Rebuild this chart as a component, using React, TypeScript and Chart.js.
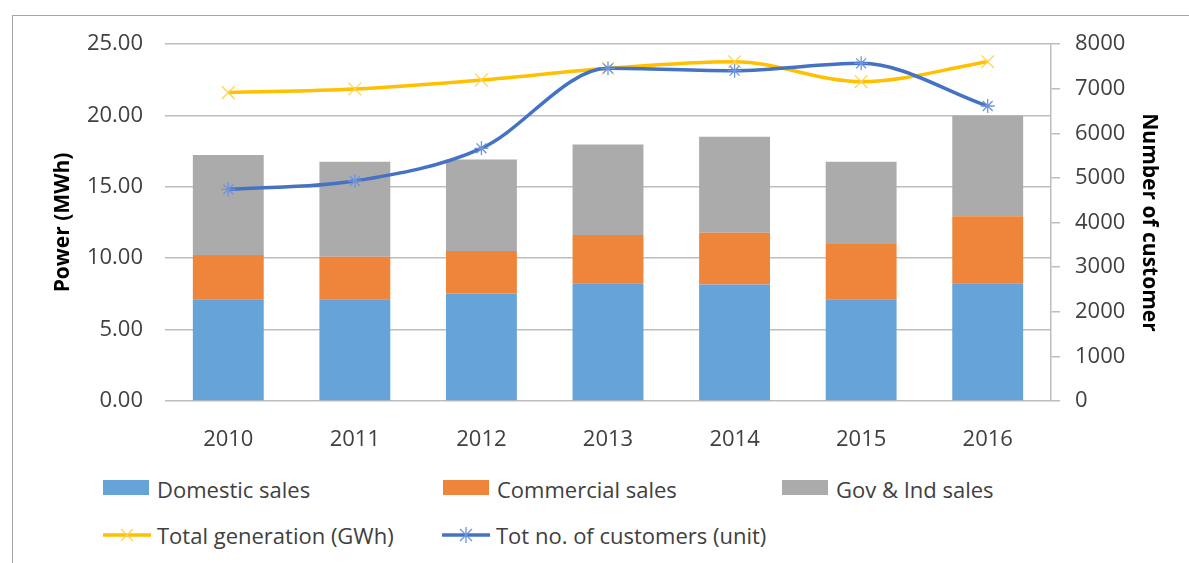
import React, { useEffect, useRef } from "react";
import { Chart, registerables } from "chart.js";

Chart.register(...registerables);

const categories = ["2010", "2011", "2012", "2013", "2014", "2015", "2016"];
const domesticSales = [7.12, 7.12, 7.52, 8.24, 8.15, 7.12, 8.24];
const commercialSales = [3.1, 2.98, 2.98, 3.38, 3.64, 3.92, 4.69];
const govIndSales = [7.01, 6.66, 6.42, 6.35, 6.72, 5.72, 7.05];
const totalGeneration = [21.6, 21.85, 22.48, 23.3, 23.76, 22.36, 23.76];
const totalCustomers = [4744, 4930, 5663, 7455, 7402, 7567, 6611];

const leftAxis = { min: 0, max: 25, step: 5, title: "Power (MWh)" };
const rightAxis = { min: 0, max: 8000, step: 1000, title: "Number of customer" };

const seriesNames = [
  "Domestic sales",
  "Commercial sales",
  "Gov & Ind sales",
  "Total generation (GWh)",
  "Tot no. of customers (unit)",
];

const COLORS = {
  domestic: "#65A3D8",
  commercial: "#EE853A",
  gov: "#ABABAB",
  gen: "#FFC000",
  genMarker: "#FFD34D",
  cust: "#4472C4",
  custMarker: "#6F93DA",
  grid: "#BDBDBD",
  text: "#404040",
};

const FONT = "'Open Sans', 'Noto Sans', sans-serif";

function LineSymbol({ color, marker, kind }: { color: string; marker: string; kind: "x" | "star" }) {
  return (
    <svg width={48} height={20} style={{ position: "absolute", left: 0, top: 0 }}>
      <line x1={0} y1={10} x2={48} y2={10} stroke={color} strokeWidth={3.5} />
      <line x1={18} y1={4} x2={30} y2={16} stroke={marker} strokeWidth={1.3} />
      <line x1={30} y1={4} x2={18} y2={16} stroke={marker} strokeWidth={1.3} />
      {kind === "star" && <line x1={24} y1={2} x2={24} y2={18} stroke={marker} strokeWidth={1.3} />}
    </svg>
  );
}

export default function App() {
  const canvasRef = useRef<HTMLCanvasElement | null>(null);

  useEffect(() => {
    document.body.style.margin = "0";
    const canvas = canvasRef.current;
    if (!canvas) return;
    const chart = new Chart(canvas, {
      type: "bar",
      data: {
        labels: categories,
        datasets: [
          {
            type: "line",
            label: seriesNames[4],
            data: totalCustomers,
            yAxisID: "y1",
            borderColor: COLORS.cust,
            borderWidth: 3.5,
            cubicInterpolationMode: "monotone",
            pointStyle: "star",
            pointRadius: 7,
            pointBorderColor: COLORS.custMarker,
            pointBackgroundColor: COLORS.custMarker,
            pointBorderWidth: 1.3,
            order: 0,
            stack: "cust",
          } as any,
          {
            type: "line",
            label: seriesNames[3],
            data: totalGeneration,
            yAxisID: "y",
            borderColor: COLORS.gen,
            borderWidth: 3.5,
            cubicInterpolationMode: "monotone",
            pointStyle: "crossRot",
            pointRadius: 9,
            pointBorderColor: COLORS.genMarker,
            pointBackgroundColor: COLORS.genMarker,
            pointBorderWidth: 1.3,
            order: 1,
            stack: "gen",
          } as any,
          {
            label: seriesNames[0],
            data: domesticSales,
            backgroundColor: COLORS.domestic,
            yAxisID: "y",
            stack: "sales",
            order: 2,
          },
          {
            label: seriesNames[1],
            data: commercialSales,
            backgroundColor: COLORS.commercial,
            yAxisID: "y",
            stack: "sales",
            order: 2,
          },
          {
            label: seriesNames[2],
            data: govIndSales,
            backgroundColor: COLORS.gov,
            yAxisID: "y",
            stack: "sales",
            order: 2,
          },
        ],
      },
      options: {
        animation: false,
        responsive: false,
        maintainAspectRatio: false,
        datasets: { bar: { categoryPercentage: 1, barPercentage: 0.56 } },
        layout: { padding: { top: 44, left: 46, right: 23, bottom: 0 } },
        plugins: { legend: { display: false }, tooltip: { enabled: false } },
        scales: {
          x: {
            stacked: true,
            grid: { display: false },
            border: { display: false },
            ticks: { color: COLORS.text, font: { family: FONT, size: 22 }, padding: 18 },
            afterFit: (s: any) => {
              s.height = 59;
            },
          },
          y: {
            position: "left",
            stacked: true,
            min: leftAxis.min,
            max: leftAxis.max,
            grid: { color: COLORS.grid, lineWidth: 1.5, drawTicks: false },
            border: { display: false },
            ticks: {
              stepSize: leftAxis.step,
              padding: 22,
              color: COLORS.text,
              font: { family: FONT, size: 22 },
              callback: (v: any) => Number(v).toFixed(2),
            },
            title: {
              display: true,
              text: leftAxis.title,
              color: "#000",
              font: { family: FONT, size: 21, weight: "bold" },
            },
            afterFit: (s: any) => {
              s.width = 119;
            },
          },
          y1: {
            position: "right",
            min: rightAxis.min,
            max: rightAxis.max,
            grid: { drawOnChartArea: false, drawTicks: true, tickLength: 9, color: COLORS.grid, lineWidth: 1.5 },
            border: { display: true, color: COLORS.grid, width: 1.5 },
            ticks: {
              stepSize: rightAxis.step,
              padding: 15,
              color: COLORS.text,
              font: { family: FONT, size: 22 },
              callback: (v: any) => String(v),
            },
            title: {
              display: true,
              text: rightAxis.title,
              color: "#000",
              font: { family: FONT, size: 21, weight: "bold" },
            },
            afterFit: (s: any) => {
              s.width = 115;
            },
          },
        },
      } as any,
    });
    return () => chart.destroy();
  }, []);

  const textStyle: React.CSSProperties = {
    position: "absolute",
    left: 54,
    top: -6,
    whiteSpace: "nowrap",
    fontFamily: FONT,
    fontSize: 22,
    color: COLORS.text,
    lineHeight: "30px",
  };

  const boxItem = (x: number, color: string, label: string) => (
    <div key={label} style={{ position: "absolute", left: x, top: 480, height: 16 }}>
      <div style={{ position: "absolute", left: 0, top: 0, width: 46, height: 15, background: color }} />
      <div style={textStyle}>{label}</div>
    </div>
  );

  const lineItem = (x: number, color: string, marker: string, kind: "x" | "star", label: string) => (
    <div key={label} style={{ position: "absolute", left: x, top: 525, height: 20 }}>
      <LineSymbol color={color} marker={marker} kind={kind} />
      <div style={{ ...textStyle, top: -5 }}>{label}</div>
    </div>
  );

  return (
    <div style={{ position: "relative", width: 1189, height: 563, overflow: "hidden", background: "#fff" }}>
      <div
        style={{
          position: "absolute",
          left: 12,
          top: 15,
          width: 1189,
          height: 600,
          border: "1px solid #A6A6A6",
          boxSizing: "border-box",
        }}
      />
      <canvas ref={canvasRef} width={1189} height={460} style={{ position: "absolute", left: 0, top: 0 }} />
      {boxItem(103, COLORS.domestic, seriesNames[0])}
      {boxItem(443, COLORS.commercial, seriesNames[1])}
      {boxItem(782, COLORS.gov, seriesNames[2])}
      {lineItem(103, COLORS.gen, COLORS.genMarker, "x", seriesNames[3])}
      {lineItem(442, COLORS.cust, COLORS.custMarker, "star", seriesNames[4])}
    </div>
  );
}
